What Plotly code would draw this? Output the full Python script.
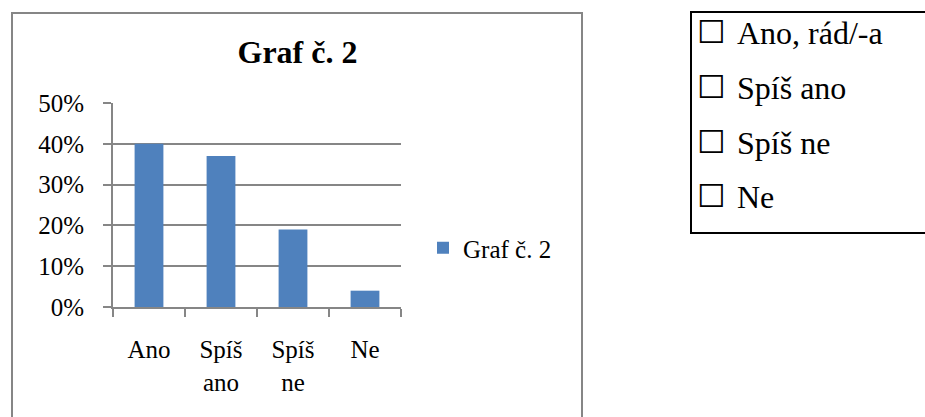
import plotly.graph_objects as go

# ---- data ----
categories = ["Ano", "Spíš ano", "Spíš ne", "Ne"]
tick_labels = ["Ano", "Spíš<br>ano", "Spíš<br>ne", "Ne"]
values = [0.40, 0.37, 0.19, 0.04]
series_name = "Graf č. 2"
title_text = "Graf č. 2"
options = ["Ano, rád/-a", "Spíš ano", "Spíš ne", "Ne"]

W, H = 925, 417
L, R, T, B = 113, 401, 103, 307  # plot area in pixels
FONT = "Liberation Serif"
GREY = "#868686"
BLUE = "#4F81BD"


def px(x):
    return (x - L) / (R - L)


def py(y):
    return (B - y) / (B - T)


fig = go.Figure()
fig.add_trace(go.Bar(x=categories, y=values, name=series_name,
                     marker=dict(color=BLUE, line=dict(width=0)),
                     showlegend=True))

shapes = [
    dict(type="rect", xref="paper", yref="paper",
         x0=px(12), x1=px(582), y0=py(425), y1=py(13),
         line=dict(color=GREY, width=2), fillcolor="rgba(0,0,0,0)", layer="below"),
    dict(type="rect", xref="paper", yref="paper",
         x0=px(691), x1=px(930), y0=py(233), y1=py(12),
         line=dict(color="black", width=2), fillcolor="rgba(0,0,0,0)"),
]

annotations = []
row_y = [32, 87, 142, 196]
for yy, lab in zip(row_y, options):
    annotations.append(dict(xref="paper", yref="paper", x=px(695), y=py(yy),
                            xanchor="left", yanchor="middle", showarrow=False,
                            text="☐", font=dict(family="DejaVu Sans", size=32, color="black")))
    annotations.append(dict(xref="paper", yref="paper", x=px(735), y=py(yy + 1),
                            xanchor="left", yanchor="middle", showarrow=False,
                            text=lab, font=dict(family=FONT, size=32, color="black")))

fig.update_layout(
    width=W, height=H,
    margin=dict(l=L, r=W - R, t=T, b=H - B, pad=0),
    paper_bgcolor="white", plot_bgcolor="white",
    font=dict(family=FONT, size=24, color="black"),
    title=dict(text="<b>" + title_text + "</b>", x=297.5 / W, xanchor="center",
               y=1 - 52 / H, yanchor="middle", yref="container",
               font=dict(family=FONT, size=32, color="black")),
    bargap=0.6,
    showlegend=True,
    legend=dict(x=px(423), y=py(248), xanchor="left", yanchor="middle",
                font=dict(family=FONT, size=25, color="black"),
                bgcolor="rgba(0,0,0,0)", itemwidth=30),
    xaxis=dict(type="category", tickvals=categories, ticktext=tick_labels,
               tickson="boundaries", ticks="outside", ticklen=8, tickcolor=GREY,
               tickwidth=2, showline=True, linecolor=GREY, linewidth=2,
               showgrid=False, ticklabelstandoff=19,
               tickfont=dict(family=FONT, size=25, color="black")),
    yaxis=dict(range=[0, 0.5], dtick=0.1, tickformat=".0%", ticks="outside",
               ticklen=8, tickcolor=GREY, tickwidth=2, showline=True,
               linecolor=GREY, linewidth=2, showgrid=True, gridcolor=GREY,
               gridwidth=2, zeroline=False, ticklabelstandoff=14,
               tickfont=dict(family=FONT, size=25, color="black")),
    shapes=shapes,
    annotations=annotations,
)

fig.write_html("out.html", config={"displayModeBar": False},
               post_script="document.body.style.margin='0';")
